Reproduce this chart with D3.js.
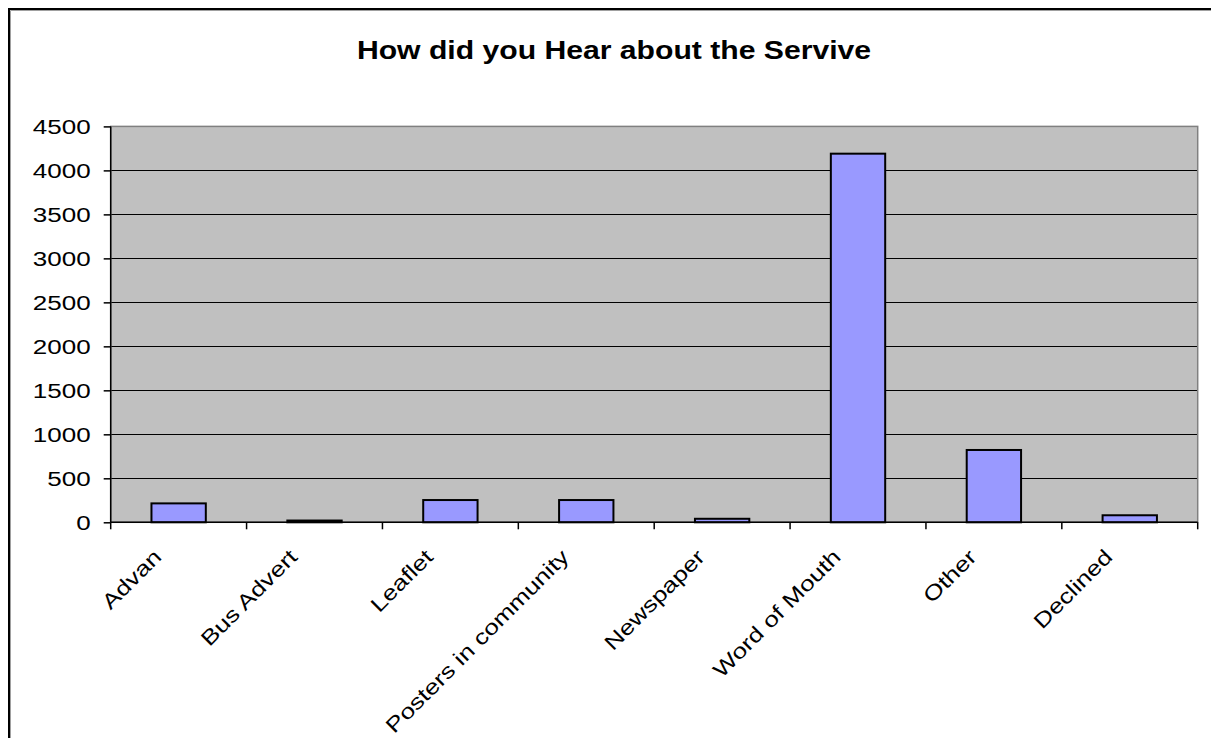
<!DOCTYPE html>
<html>
<head>
<meta charset="utf-8">
<script src="https://cdn.jsdelivr.net/npm/d3@7"></script>
<style>
  html, body { margin: 0; padding: 0; background: #fff; }
  svg { display: block; }
  text { font-family: "Liberation Sans", Arial, sans-serif; fill: #000; }
</style>
</head>
<body>
<svg id="chart" width="1211" height="738"></svg>
<script>
// Survey answers: how respondents heard about the service
const categories = ["Advan", "Bus Advert", "Leaflet", "Posters in community",
                    "Newspaper", "Word of Mouth", "Other", "Declined"];
const counts = [215, 20, 253, 253, 40, 4190, 822, 80];
const yTicks = [0, 500, 1000, 1500, 2000, 2500, 3000, 3500, 4000, 4500];
const title = "How did you Hear about the Servive";

const svg = d3.select("#chart");
const W = 1211, H = 738;
const WIDE = 1.24; // horizontal stretch of the label lettering

svg.append("rect").attr("width", W).attr("height", H).attr("fill", "#fff");

// Chart frame (runs off the right and bottom edges)
svg.append("rect")
  .attr("x", 9).attr("y", 9).attr("width", W + 20).attr("height", H + 20)
  .attr("fill", "none").attr("stroke", "#000").attr("stroke-width", 2);
svg.append("path")
  .attr("d", `M10.5,${H + 20} V10.5 H${W + 20}`)
  .attr("fill", "none").attr("stroke", "#a0a0a0").attr("stroke-width", 1);

const plot = { left: 110.7, right: 1197.7, top: 126.4, bottom: 522.3 };

const x = d3.scaleBand()
  .domain(categories)
  .range([plot.left, plot.right])
  .paddingInner(0.6)
  .paddingOuter(0.3);

const xBand = d3.scaleBand()
  .domain(categories)
  .range([plot.left, plot.right]);

const y = d3.scaleLinear().domain([0, 4500]).range([plot.bottom, plot.top]);

// Plot area background
svg.append("rect")
  .attr("x", plot.left).attr("y", plot.top)
  .attr("width", plot.right - plot.left).attr("height", plot.bottom - plot.top)
  .attr("fill", "#c0c0c0");

// Horizontal gridlines
svg.append("g")
  .selectAll("line")
  .data(yTicks.filter(d => d > 0 && d < 4500))
  .join("line")
  .attr("x1", plot.left).attr("x2", plot.right)
  .attr("y1", d => Math.round(y(d)) + 0.5).attr("y2", d => Math.round(y(d)) + 0.5)
  .attr("stroke", "#000").attr("stroke-width", 1);

// Plot area border
svg.append("rect")
  .attr("x", plot.left).attr("y", plot.top)
  .attr("width", plot.right - plot.left).attr("height", plot.bottom - plot.top)
  .attr("fill", "none").attr("stroke", "#808080").attr("stroke-width", 1.5);

// Bars
svg.append("g")
  .selectAll("rect")
  .data(categories.map((c, i) => ({ c, v: counts[i] })))
  .join("rect")
  .attr("x", d => x(d.c))
  .attr("y", d => y(d.v))
  .attr("width", x.bandwidth())
  .attr("height", d => y(0) - y(d.v))
  .attr("fill", "#9999ff")
  .attr("stroke", "#000").attr("stroke-width", 2);

// Y axis
const yAxis = d3.axisLeft(y).tickValues(yTicks).tickSize(7).tickPadding(13)
  .tickFormat(d3.format("d"));
const gy = svg.append("g").attr("transform", `translate(${plot.left},0)`).call(yAxis);
gy.select(".domain").attr("stroke", "#000").attr("stroke-width", 1.5).attr("d", `M-0,${plot.top}V${plot.bottom}`);
gy.selectAll(".tick line").attr("stroke", "#000").attr("stroke-width", 1.5);
gy.selectAll(".tick text")
  .attr("font-family", "Liberation Sans, Arial, sans-serif")
  .attr("font-size", 21).attr("fill", "#000")
  .attr("x", null).attr("dy", "0.36em")
  .attr("transform", `translate(-20,0) scale(${WIDE},1)`);

// X axis: ticks sit on category boundaries
const gx = svg.append("g").attr("transform", `translate(0,${plot.bottom})`);
gx.append("line")
  .attr("x1", plot.left).attr("x2", plot.right)
  .attr("stroke", "#000").attr("stroke-width", 1.5);
const bounds = categories.map(c => xBand(c)).concat([plot.right]);
gx.selectAll("line.tk")
  .data(bounds)
  .join("line").attr("class", "tk")
  .attr("x1", d => d).attr("x2", d => d)
  .attr("y1", 0).attr("y2", 7)
  .attr("stroke", "#000").attr("stroke-width", 1.5);

gx.selectAll("text.cat")
  .data(categories)
  .join("text").attr("class", "cat")
  .attr("transform", d => `translate(${xBand(d) + xBand.bandwidth() / 2 - 16},${36}) rotate(-45) scale(${WIDE},1)`)
  .attr("text-anchor", "end")
  .attr("font-size", 21)
  .text(d => d);

// Title
svg.append("text")
  .attr("transform", `translate(614,59) scale(1.16,1)`)
  .attr("text-anchor", "middle")
  .attr("font-size", 26).attr("font-weight", "bold")
  .text(title);
</script>
</body>
</html>
